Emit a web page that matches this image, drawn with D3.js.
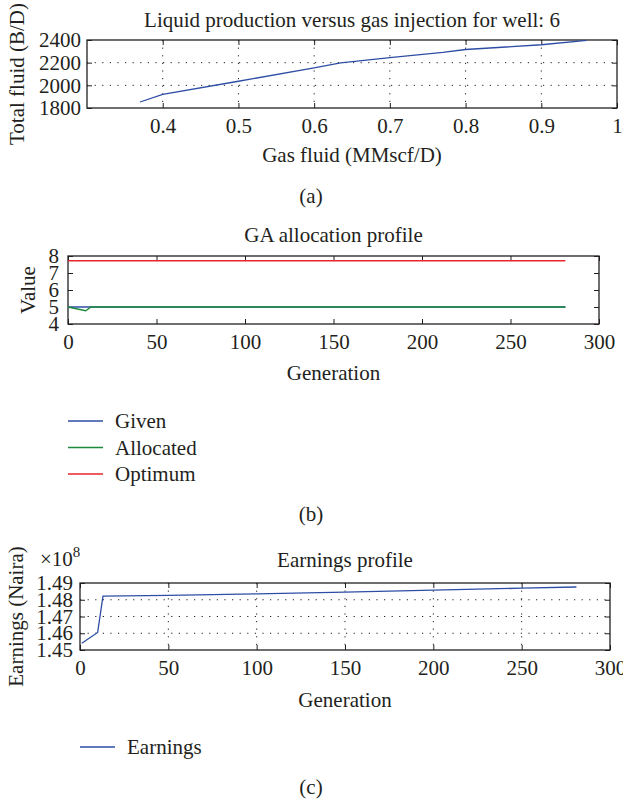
<!DOCTYPE html>
<html>
<head>
<meta charset="utf-8">
<script src="https://cdnjs.cloudflare.com/ajax/libs/d3/7.8.5/d3.min.js"></script>
<style>
  body { margin: 0; background: #fff; }
  svg text { font-family: "Liberation Serif", "DejaVu Serif", serif; fill: #231f20; font-size: 21px; }
  .grid line { stroke: #231f20; stroke-width: 1; stroke-dasharray: 1.2,6.4; }
  .tick line { stroke: #231f20; stroke-width: 1; }
</style>
</head>
<body>
<svg id="fig" width="623" height="803"></svg>
<script>

// (a) liquid production vs gas injection, well 6
var gasInjection = [0.37, 0.40, 0.50, 0.60, 0.635, 0.70, 0.77, 0.80, 0.90, 0.96];
var totalFluid   = [1853, 1920, 2036, 2155, 2198, 2245, 2290, 2316, 2358, 2396];
var gasTicks   = [0.4, 0.5, 0.6, 0.7, 0.8, 0.9, 1];
var fluidTicks = [1800, 2000, 2200, 2400];

// (b) GA allocation profile
var allocGeneration = [0, 10, 13, 281];
var givenValues     = [5, 5, 5, 5];
var allocatedValues = [5, 4.78, 5, 5];
var optimumValues   = [7.72, 7.72, 7.72, 7.72];
var valueTicks      = [4, 5, 6, 7, 8];
var generationTicks = [0, 50, 100, 150, 200, 250, 300];
var legendNames     = ["Given", "Allocated", "Optimum"];

// (c) earnings profile
var earnGeneration = [1, 10, 13, 50, 100, 150, 200, 250, 281];
var earnings = [1.4540e8, 1.4605e8, 1.4822e8, 1.4826e8, 1.4835e8, 1.4846e8, 1.4858e8, 1.4869e8, 1.4876e8];
var earningsTicks = [1.45e8, 1.46e8, 1.47e8, 1.48e8, 1.49e8];

var blue = "#2e4ea6", green = "#1b8a3c", red = "#e6262b", ink = "#231f20";

var svg = d3.select("#fig");
var plain = function(d) { return String(d); };

// draws a MATLAB style boxed axes, returns scales
function boxAxes(o) {
  var g = svg.append("g");
  var x = d3.scaleLinear().domain(o.xDomain).range([o.left, o.right]);
  var y = d3.scaleLinear().domain(o.yDomain).range([o.bottom, o.top]);

  if (o.grid) {
    var grid = g.append("g").attr("class", "grid");
    grid.selectAll(".gx")
      .data(o.xTicks.filter(function(d) { return d > o.xDomain[0] && d < o.xDomain[1]; }))
      .enter().append("line")
      .attr("x1", function(d) { return x(d); }).attr("x2", function(d) { return x(d); })
      .attr("y1", o.top).attr("y2", o.bottom);
    grid.selectAll(".gy")
      .data(o.yTicks.filter(function(d) { return d > o.yDomain[0] && d < o.yDomain[1]; }))
      .enter().append("line")
      .attr("x1", o.left).attr("x2", o.right)
      .attr("y1", function(d) { return y(d); }).attr("y2", function(d) { return y(d); });
  }

  // bottom + left with labels, top + right ticks only
  g.append("g").attr("transform", "translate(0," + o.bottom + ")")
    .call(d3.axisBottom(x).tickValues(o.xTicks).tickSizeInner(-5).tickSizeOuter(0)
      .tickPadding(o.xPad || 10).tickFormat(plain));
  var left = g.append("g").attr("transform", "translate(" + o.left + ",0)")
    .call(d3.axisLeft(y).tickValues(o.yTicks).tickSizeInner(-5).tickSizeOuter(0)
      .tickPadding(o.yPad || 6).tickFormat(o.yFormat || plain));
  g.append("g").attr("transform", "translate(0," + o.top + ")")
    .call(d3.axisTop(x).tickValues(o.xTicks).tickSizeInner(-5).tickSizeOuter(0).tickFormat(""));
  g.append("g").attr("transform", "translate(" + o.right + ",0)")
    .call(d3.axisRight(y).tickValues(o.yTicks).tickSizeInner(-5).tickSizeOuter(0).tickFormat(""));
  g.selectAll(".domain").remove();
  g.selectAll(".tick text").attr("font-size", 21).attr("fill", ink)
    .attr("font-family", "Liberation Serif, DejaVu Serif, serif");
  if (o.yFont) left.selectAll(".tick text").attr("font-size", o.yFont);
  g.selectAll(".tick line").attr("stroke", ink);

  g.append("rect")
    .attr("x", o.left).attr("y", o.top)
    .attr("width", o.right - o.left).attr("height", o.bottom - o.top)
    .attr("fill", "none").attr("stroke", ink).attr("stroke-width", 1.3);

  // title and axis labels
  var cx = (o.left + o.right) / 2, cy = (o.top + o.bottom) / 2;
  g.append("text").attr("x", cx).attr("y", o.titleY).attr("dy", "0.35em")
    .attr("text-anchor", "middle").text(o.title);
  g.append("text").attr("x", cx).attr("y", o.xLabelY).attr("dy", "0.35em")
    .attr("text-anchor", "middle").text(o.xLabel);
  g.append("text").attr("transform", "translate(" + o.yLabelX + "," + cy + ") rotate(-90)")
    .attr("dy", "0.35em").attr("text-anchor", "middle").text(o.yLabel);

  return { g: g, x: x, y: y };
}

function addLine(ax, xs, ys, color) {
  var line = d3.line()
    .x(function(d) { return ax.x(d[0]); })
    .y(function(d) { return ax.y(d[1]); });
  ax.g.append("path")
    .datum(d3.zip(xs, ys))
    .attr("d", line)
    .attr("fill", "none").attr("stroke", color).attr("stroke-width", 1.3);
}

function addLegend(x, y0, step, names, colors) {
  var lg = svg.append("g");
  names.forEach(function(n, i) {
    var y = y0 + i * step;
    lg.append("line").attr("x1", x).attr("x2", x + 35).attr("y1", y).attr("y2", y)
      .attr("stroke", colors[i]).attr("stroke-width", 1.3);
    lg.append("text").attr("x", x + 47).attr("y", y).attr("dy", "0.35em").text(n);
  });
}

function caption(txt, y) {
  svg.append("text").attr("x", 311).attr("y", y).attr("dy", "0.35em")
    .attr("text-anchor", "middle").text(txt);
}

// ---- (a)
var axA = boxAxes({
  left: 87, right: 617, top: 40, bottom: 108,
  xDomain: [0.3, 1], yDomain: [1800, 2400],
  xTicks: gasTicks, yTicks: fluidTicks, grid: true, xPad: 10, yPad: 6,
  title: "Liquid production versus gas injection for well: 6", titleY: 20,
  xLabel: "Gas fluid (MMscf/D)", xLabelY: 155,
  yLabel: "Total fluid (B/D)", yLabelX: 17
});
addLine(axA, gasInjection, totalFluid, blue);
caption("(a)", 196);

// ---- (b)
var axB = boxAxes({
  left: 68, right: 599, top: 256, bottom: 324,
  xDomain: [0, 300], yDomain: [4, 8],
  xTicks: generationTicks, yTicks: valueTicks, grid: false, xPad: 10, yPad: 9,
  title: "GA allocation profile", titleY: 235,
  xLabel: "Generation", xLabelY: 373,
  yLabel: "Value", yLabelX: 28
});
addLine(axB, allocGeneration, optimumValues, red);
addLine(axB, allocGeneration, givenValues, blue);
addLine(axB, allocGeneration, allocatedValues, green);
addLegend(68, 421, 26.5, legendNames, [blue, green, red]);
caption("(b)", 514);

// ---- (c)
var axC = boxAxes({
  left: 80, right: 610, top: 583, bottom: 650,
  xDomain: [0, 300], yDomain: [1.45e8, 1.49e8],
  xTicks: generationTicks, yTicks: earningsTicks, grid: true, xPad: 10, yPad: 7, yFont: 20,
  yFormat: function(d) { return (d / 1e8).toFixed(2); },
  title: "Earnings profile", titleY: 560,
  xLabel: "Generation", xLabelY: 700,
  yLabel: "Earnings (Naira)", yLabelX: 16
});
addLine(axC, earnGeneration, earnings, blue);
var exp = svg.append("text").attr("x", 40).attr("y", 566);
exp.append("tspan").text("\u00d710");
exp.append("tspan").attr("dy", -9).attr("font-size", 15).text("8");
addLegend(80, 747, 0, ["Earnings"], [blue]);
caption("(c)", 787);

</script>
</body>
</html>
